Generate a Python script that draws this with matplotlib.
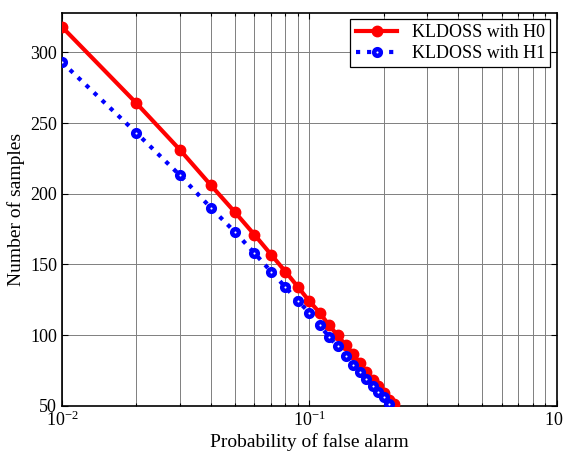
import numpy as np
import matplotlib.pyplot as plt
from matplotlib.ticker import LogLocator, NullFormatter, FixedLocator

plt.rcParams['font.family'] = ['Liberation Serif', 'DejaVu Serif']
plt.rcParams['mathtext.fontset'] = 'stix'

# probability of false alarm
pfa_h0 = [0.01, 0.02, 0.03, 0.04, 0.05, 0.06, 0.07, 0.08, 0.09, 0.10, 0.11,
          0.12, 0.13, 0.14, 0.15, 0.16, 0.17, 0.18, 0.19, 0.20, 0.21, 0.22]
pfa_h1 = pfa_h0[:-1]

# number of samples
n_h0 = [318, 264, 231, 206, 187, 171, 157, 145, 134, 124, 116,
        107, 100, 93, 87, 80, 74, 68, 64, 59, 54, 51]
n_h1 = [293, 243, 213, 190, 173, 158, 145, 134, 124, 116, 107,
        99, 92, 85, 79, 74, 69, 64, 60, 56, 51]

fig = plt.figure(figsize=(5.63, 4.53), dpi=100)
ax = fig.add_axes([0.110, 0.104, 0.879, 0.868])

ax.plot(pfa_h0, n_h0, '-o', color='red', lw=3, ms=7.5,
        mfc='red', mec='red', label='KLDOSS with H0', zorder=3)
ax.plot(pfa_h1, n_h1, ':o', color='blue', lw=3, ms=4.8,
        mfc='white', mec='blue', mew=3.2, label='KLDOSS with H1', zorder=3)

ax.set_xscale('log')
ax.set_xlim(0.01, 1)
ax.set_ylim(50, 328)
ax.yaxis.set_major_locator(FixedLocator([50, 100, 150, 200, 250, 300]))
ax.xaxis.set_major_locator(LogLocator(base=10, numticks=10))
ax.xaxis.set_minor_locator(LogLocator(base=10, subs=np.arange(2, 10), numticks=10))
ax.xaxis.set_minor_formatter(NullFormatter())

ax.grid(True, which='major', color='#7f7f7f', lw=0.7)
ax.grid(True, which='minor', axis='x', color='#7f7f7f', lw=0.7)
ax.tick_params(which='both', direction='in', top=True, right=True,
               labelsize=13, length=4, width=0.8, colors='black')
ax.tick_params(which='minor', length=2.5)
for s in ax.spines.values():
    s.set_linewidth(1.2)

ax.set_xlabel('Probability of false alarm', fontsize=14, labelpad=2)
ax.set_ylabel('Number of samples', fontsize=14, labelpad=4)

leg = ax.legend(loc='upper right', fontsize=13, fancybox=False,
                edgecolor='black', framealpha=1, borderaxespad=0.35,
                handlelength=2.3, borderpad=0.3, labelspacing=0.2)
leg.get_frame().set_linewidth(0.9)

fig.savefig('out.png', dpi=100)
